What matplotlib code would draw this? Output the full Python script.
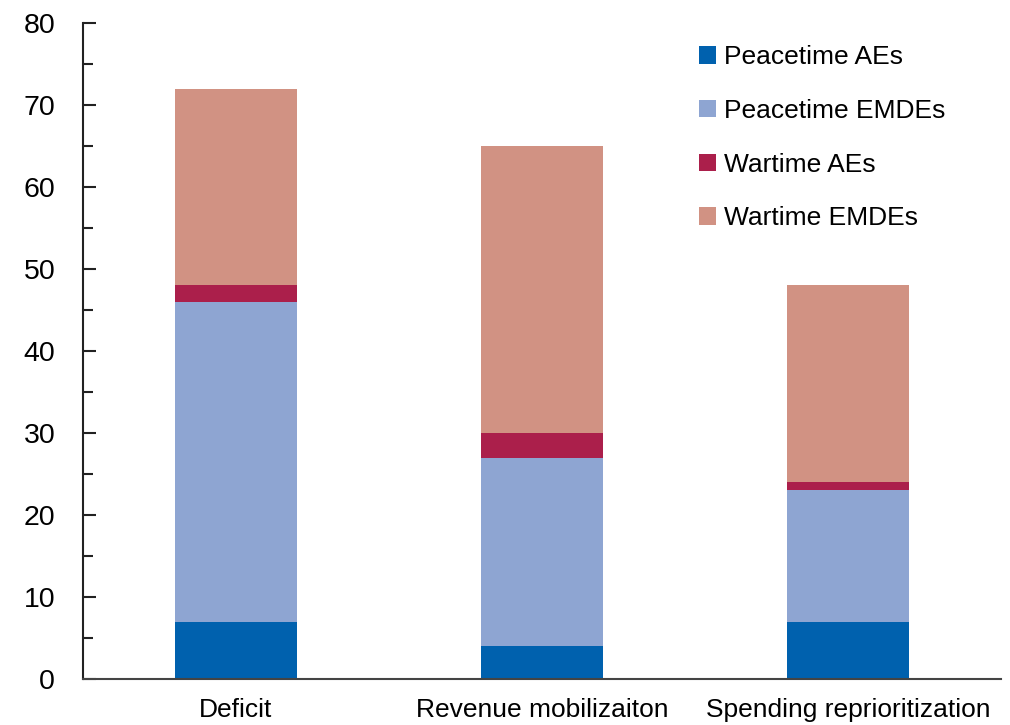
import matplotlib
matplotlib.use("Agg")
import matplotlib.pyplot as plt
import numpy as np
from matplotlib.ticker import MultipleLocator

categories = ["Deficit", "Revenue mobilizaiton", "Spending reprioritization"]
series_names = ["Peacetime AEs", "Peacetime EMDEs", "Wartime AEs", "Wartime EMDEs"]
peacetime_aes = [7, 4, 7]
peacetime_emdes = [39, 23, 16]
wartime_aes = [2, 3, 1]
wartime_emdes = [24, 35, 24]
colors = ["#0061AE", "#8EA5D2", "#AB1F4B", "#D19283"]

plt.rcParams['font.family'] = ['Liberation Sans', 'DejaVu Sans']

fig = plt.figure(figsize=(10.1, 7.25), dpi=100)
ax = fig.add_axes([83/1010, (725-679)/725, (1001-83)/1010, (679-23)/725])

x = np.arange(len(categories))
bottom = np.zeros(len(categories))
for vals, name, c in zip([peacetime_aes, peacetime_emdes, wartime_aes, wartime_emdes], series_names, colors):
    ax.bar(x, vals, width=0.4, bottom=bottom, color=c, label=name, linewidth=0)
    bottom += np.array(vals)

ax.set_xlim(-0.5, 2.5)
ax.set_ylim(0, 80)
ax.yaxis.set_major_locator(MultipleLocator(10))
ax.yaxis.set_minor_locator(MultipleLocator(5))
ax.set_xticks(x)
ax.set_xticklabels(categories, fontsize=19)
ax.tick_params(axis='x', length=0, pad=14)
ax.tick_params(axis='y', which='major', direction='in', length=9, width=1.5, labelsize=20.5, pad=20, color='#222222')
ax.tick_params(axis='y', which='minor', direction='in', length=7, width=1.5, color='#222222')
ax.spines['top'].set_visible(False)
ax.spines['right'].set_visible(False)
ax.spines['left'].set_color('#222222')
ax.spines['left'].set_linewidth(1.5)
ax.spines['bottom'].set_color('#444444')
ax.spines['bottom'].set_linewidth(1.5)

leg = ax.legend(loc='upper left', bbox_to_anchor=(699/1010, 1-45/725), bbox_transform=fig.transFigure,
                frameon=False, fontsize=19, handlelength=0.65, handleheight=0.65, handletextpad=0.3,
                labelspacing=1.13, borderpad=0, borderaxespad=0)

fig.savefig("out.png", dpi=100)
